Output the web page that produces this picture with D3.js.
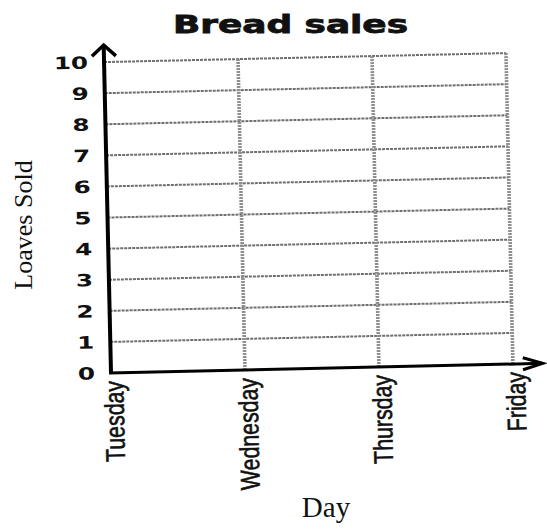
<!DOCTYPE html>
<html>
<head>
<meta charset="utf-8">
<script src="https://cdn.jsdelivr.net/npm/d3@7"></script>
<style>
  body { margin: 0; background: #fff; }
</style>
</head>
<body>
<div id="chart"></div>
<script>
// worksheet chart: empty grid, values still to be filled in
var days = ["Tuesday", "Wednesday", "Thursday", "Friday"];
var loaves = [0, 1, 2, 3, 4, 5, 6, 7, 8, 9, 10];

var width = 547, height = 529;
var origin = {x: 111, y: 373},
    plotW = 402,
    plotH = 311,
    tilt = -1.28; // the scan is a little crooked

var svg = d3.select("#chart").append("svg")
    .attr("width", width)
    .attr("height", height);

var x = d3.scalePoint().domain(days).range([0, plotW]);
var y = d3.scaleLinear().domain([0, 10]).range([0, -plotH]);

var g = svg.append("g")
    .attr("transform", "translate(" + origin.x + "," + origin.y + ") rotate(" + tilt + ")");

// horizontal grid
g.selectAll("line.hgrid").data(loaves.slice(1)).enter().append("line")
    .attr("class", "hgrid")
    .attr("x1", 0).attr("x2", plotW)
    .attr("y1", d => y(d)).attr("y2", d => y(d))
    .attr("stroke", "#6e6e6e")
    .attr("stroke-width", 2)
    .attr("stroke-dasharray", "3 1");

// vertical grid
g.selectAll("line.vgrid").data(days.slice(1)).enter().append("line")
    .attr("class", "vgrid")
    .attr("x1", d => x(d)).attr("x2", d => x(d))
    .attr("y1", 0).attr("y2", y(10))
    .attr("stroke", "#8f8f8f")
    .attr("stroke-width", 3.6)
    .attr("stroke-dasharray", "2 1");

// axes with arrows
g.append("line")
    .attr("x1", 0).attr("y1", 1).attr("x2", 0).attr("y2", y(10) - 16)
    .attr("stroke", "#000").attr("stroke-width", 4);
g.append("polyline")
    .attr("points", [[-12, y(10) - 6], [0, y(10) - 17], [12, y(10) - 6]].join(" "))
    .attr("fill", "none").attr("stroke", "#000").attr("stroke-width", 3.5);

g.append("line")
    .attr("x1", -2).attr("y1", 0).attr("x2", plotW + 29).attr("y2", 0)
    .attr("stroke", "#000").attr("stroke-width", 3);
g.append("polyline")
    .attr("points", [[plotW + 10, -6], [plotW + 30, 0], [plotW + 10, 6]].join(" "))
    .attr("fill", "none").attr("stroke", "#000").attr("stroke-width", 3);

// y tick labels (wide, heavy digits)
g.selectAll("g.ytick").data(loaves).enter().append("g")
    .attr("class", "ytick")
    .attr("transform", d => "translate(-16," + y(d) + ") scale(1.45,1)")
    .append("text")
    .attr("text-anchor", "end")
    .attr("dy", "0.36em")
    .attr("font-family", "DejaVu Sans")
    .attr("font-weight", "bold")
    .attr("font-size", 17)
    .attr("fill", "#111")
    .text(d => d);

// x tick labels, squeezed like a narrow face
g.selectAll("text.xtick").data(days).enter().append("text")
    .attr("class", "xtick")
    .attr("transform", d => "translate(" + (x(d) + 12) + ",8) rotate(-90) scale(0.79,1)")
    .attr("text-anchor", "end")
    .attr("font-family", "'Liberation Sans', Arial, sans-serif")
    .attr("font-size", 27)
    .attr("stroke", "#111")
    .attr("stroke-width", 0.6)
    .attr("fill", "#111")
    .text(d => d);

// titles
svg.append("text")
    .attr("x", 173).attr("y", 33)
    .attr("font-family", "DejaVu Sans")
    .attr("font-weight", "bold")
    .attr("font-size", 24)
    .attr("textLength", 235)
    .attr("lengthAdjust", "spacingAndGlyphs")
    .attr("stroke", "#111")
    .attr("stroke-width", 0.8)
    .attr("fill", "#111")
    .text("Bread sales");

svg.append("text")
    .attr("transform", "translate(32,225) rotate(-90)")
    .attr("text-anchor", "middle")
    .attr("font-family", "'Liberation Serif', 'Times New Roman', serif")
    .attr("font-size", 26)
    .attr("fill", "#111")
    .text("Loaves Sold");

svg.append("text")
    .attr("x", 326).attr("y", 517)
    .attr("text-anchor", "middle")
    .attr("font-family", "'Liberation Serif', 'Times New Roman', serif")
    .attr("font-size", 29)
    .attr("fill", "#111")
    .text("Day");
</script>
</body>
</html>
